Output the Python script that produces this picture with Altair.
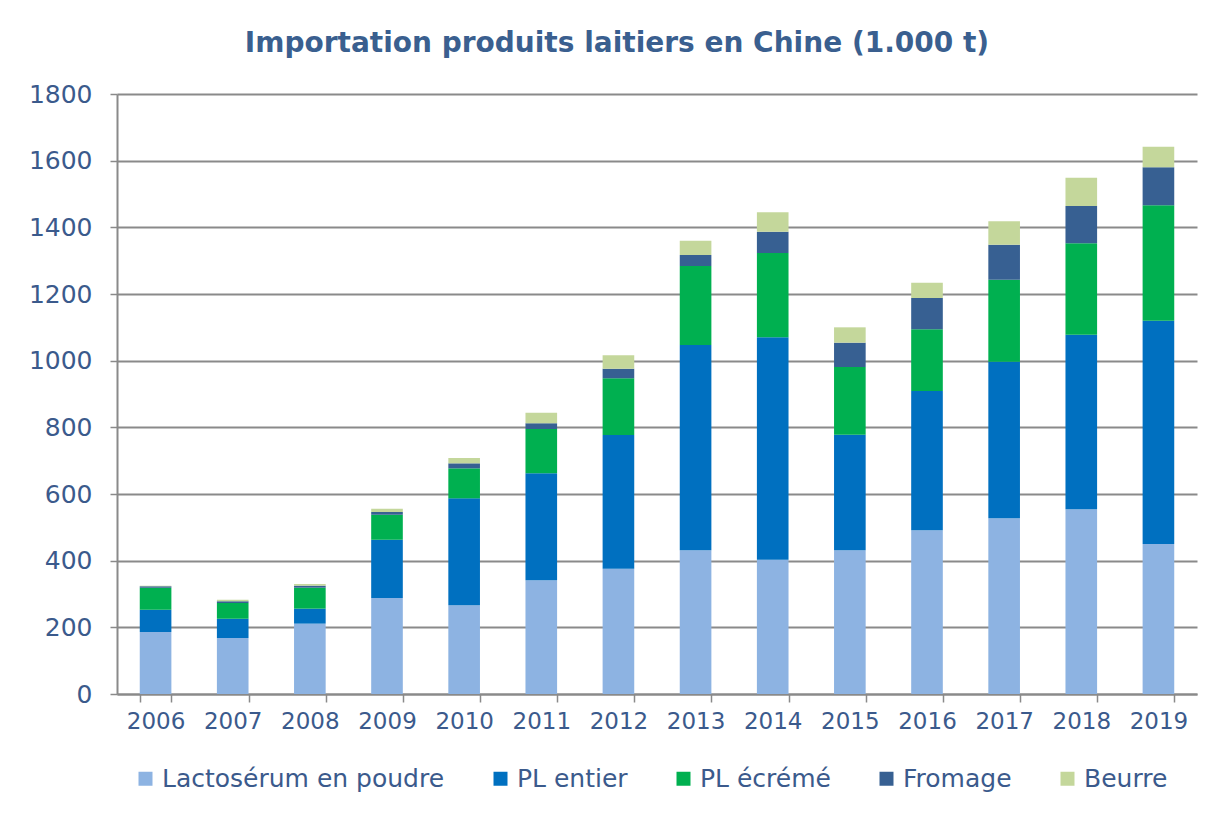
import altair as alt
import pandas as pd

years = ["2006", "2007", "2008", "2009", "2010", "2011", "2012",
         "2013", "2014", "2015", "2016", "2017", "2018", "2019"]
series = ["Lactosérum en poudre", "PL entier", "PL écrémé", "Fromage", "Beurre"]
colors = ["#8db3e2", "#0070c0", "#00b050", "#376092", "#c4d79b"]

lactoserum = [186, 168, 211, 288, 266, 341, 376, 431, 403, 431, 491, 527, 554, 450]
pl_entier = [67, 58, 45, 175, 321, 321, 401, 616, 667, 347, 418, 470, 524, 670]
pl_ecreme = [66, 47, 63, 75, 90, 133, 170, 237, 253, 203, 185, 246, 274, 346]
fromage = [4, 5, 6, 8, 15, 17, 29, 33, 64, 73, 94, 105, 112, 114]
beurre = [2, 5, 5, 10, 16, 32, 40, 43, 58, 46, 46, 70, 85, 62]

values = [lactoserum, pl_entier, pl_ecreme, fromage, beurre]
rows = []
for si, (name, vals) in enumerate(zip(series, values)):
    for y, v in zip(years, vals):
        rows.append({"year": y, "serie": name, "value": v, "ord": si})
df = pd.DataFrame(rows)

font = "DejaVu Sans"
label_color = "#3b5a8c"
grid_color = "#8a8a8a"

chart = alt.Chart(df).mark_bar().encode(
    x=alt.X("year:N", title=None,
            scale=alt.Scale(paddingInner=0.59, paddingOuter=0.295),
            axis=alt.Axis(labelAngle=0, tickBand="extent", tickSize=8,
                          tickColor=grid_color, tickWidth=1.5,
                          domainColor=grid_color, domainWidth=2,
                          labelFontSize=23, labelColor=label_color,
                          labelFont=font, labelPadding=8)),
    y=alt.Y("value:Q", title=None, stack="zero",
            scale=alt.Scale(domain=[0, 1800], nice=False),
            axis=alt.Axis(values=list(range(0, 1801, 200)), format="d",
                          tickSize=7,
                          tickColor=grid_color, tickWidth=1.5,
                          domainColor=grid_color, domainWidth=2,
                          gridColor=grid_color, gridWidth=2,
                          labelFontSize=25, labelColor=label_color,
                          labelFont=font, labelPadding=18)),
    color=alt.Color("serie:N", title=None,
                    scale=alt.Scale(domain=series, range=colors),
                    legend=alt.Legend(orient="none", direction="horizontal",
                                      legendX=16, legendY=672,
                                      symbolType="square", symbolSize=196,
                                      symbolStrokeWidth=0, labelOffset=4,
                                      labelFontSize=25, labelColor=label_color,
                                      labelFont=font, labelLimit=0,
                                      columnPadding=43)),
    order=alt.Order("ord:Q", sort="ascending"),
).properties(
    width=1080,
    height=600,
    title=alt.TitleParams("Importation produits laitiers en Chine (1.000 t)",
                          fontSize=28, font=font, fontWeight="bold",
                          color="#3a5f8f", offset=24, dx=-40),
    padding={"left": 20, "top": 22, "right": 10, "bottom": 5},
).configure_view(stroke=None)

chart.save("out.html", embed_options={"renderer": "svg", "actions": False})
